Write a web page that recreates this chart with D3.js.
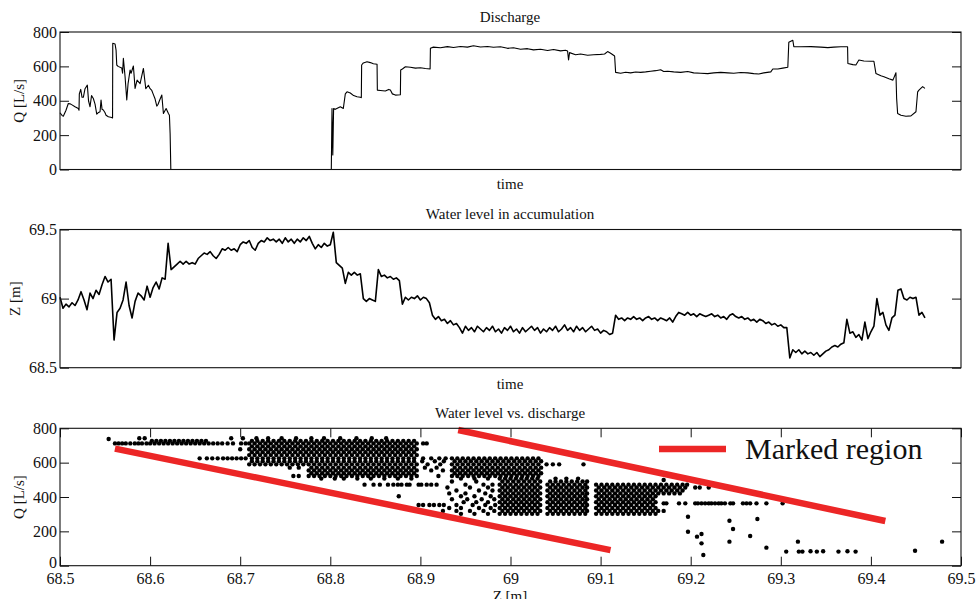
<!DOCTYPE html>
<html><head><meta charset="utf-8">
<script src="https://cdn.jsdelivr.net/npm/d3@7"></script>
<style>
body{margin:0;background:#fff}
svg{display:block}
svg text{font-family:"Liberation Serif","DejaVu Serif","Times New Roman",serif !important;}
</style>
</head><body>
<svg id="chart" width="978" height="599"></svg>
<script>
// ---------------- DATA ----------------
const qTicks = [0, 200, 400, 600, 800];
const zTicks = [68.5, 69, 69.5];
const zTickLabels = ["68.5", "69", "69.5"];
const sxTicks = [68.5, 68.6, 68.7, 68.8, 68.9, 69, 69.1, 69.2, 69.3, 69.4, 69.5];
const sxLabels = ["68.5","68.6","68.7","68.8","68.9","69","69.1","69.2","69.3","69.4","69.5"];
const timeMax = 900;

// Discharge Q [L/s] over time
const dischargeTime = [0,2,3.3,6,8.3,10,12,15,18.3,19,19.3,20.7,22,23.3,25,27.3,28.5,30,31.5,33.3,35,36.7,38,40,41,42,43.3,45,46,48.3,51.7,52.5,52.7,55,56,56.7,58,61.7,62.5,63.3,65,66.7,68,70,71,73.3,75,77,80,83.3,85.7,88.3,90,91.7,93,95,96.7,98,99.3,101.7,103.3,106,108.3,109.3,110,110.7,
 271,271.7,272.5,273.3,275,280,283,285,286.7,290,293.3,296.7,300,301,301.3,303,306.7,310,313,316.7,317,320,325,328.3,330,332,335,340,340.3,342,345,350,355,360,365,369.7,370,373,380,387,393,400,407,413,420,427,433,440,447,453,460,467,473,480,487,493,500,505,507,508,509,515,520,527,533,540,544,547,550,554,555,560,565,570,575,580,585,590,595,600,603,607,613,620,627,633,640,647,653,660,667,673,680,687,693,698,703,710,712,717,722,727,728,732,733,740,750,760,767,773,780,786.7,787,792,795,798,803,810,813,815,820,823,828,832,835,835.7,836.7,840,845,850,855,856.7,858,861.7,864];
const dischargeValue = [330,315,310,345,384,382,376,365,355,345,440,466,420,420,470,491,400,365,430,413,380,322,330,336,404,350,346,330,316,307,303,300,734,730,695,608,600,590,560,647,540,404,500,579,560,602,472,520,500,588,470,490,470,460,440,410,369,380,400,433,326,355,326,316,210,0,
 0,355,84,355,350,365,355,440,452,445,430,423,420,418,608,620,627,622,615,612,462,460,457,466,462,440,433,435,579,585,598,595,590,592,588,585,705,712,708,715,710,716,712,720,713,716,711,714,705,708,700,703,696,700,692,698,690,694,690,637,680,668,672,665,668,670,672,686,676,660,565,560,566,562,567,565,568,572,575,580,570,572,568,565,570,562,560,558,562,565,562,560,564,562,558,556,562,568,585,585,590,595,740,752,715,714,715,712,709,712,714,714,617,610,608,637,631,630,630,559,545,540,528,520,563,414,326,316,310,312,336,452,462,482,472];

// Water level Z [m], one reading every 3 time units from t = 0
const levelStep = 3;
const waterLevel = [69.01,68.93,68.96,68.94,68.97,68.95,68.99,69.05,68.99,68.92,69.04,69.00,69.06,69.03,69.10,69.16,69.12,69.14,68.70,68.90,
 68.93,68.99,69.12,68.95,68.86,68.98,69.04,69.02,68.99,69.09,69.01,69.08,69.12,69.07,69.15,69.14,69.40,69.21,69.23,69.25,
 69.27,69.25,69.27,69.25,69.26,69.25,69.29,69.31,69.33,69.32,69.34,69.31,69.29,69.32,69.36,69.35,69.37,69.35,69.36,69.34,
 69.39,69.41,69.40,69.42,69.37,69.35,69.40,69.42,69.41,69.44,69.42,69.43,69.41,69.43,69.40,69.44,69.41,69.43,69.40,69.43,
 69.41,69.44,69.42,69.45,69.40,69.36,69.39,69.37,69.40,69.38,69.39,69.48,69.26,69.24,69.22,69.11,69.19,69.17,69.19,69.17,
 69.18,69.00,68.98,69.00,68.99,68.98,69.21,69.16,69.17,69.15,69.16,69.14,69.15,69.13,68.96,69.01,68.99,69.01,69.00,69.02,
 68.99,69.01,69.00,68.97,68.88,68.85,68.87,68.84,68.85,68.82,68.84,68.81,68.82,68.79,68.75,68.80,68.77,68.79,68.76,68.80,
 68.78,68.76,68.79,68.77,68.80,68.76,68.78,68.75,68.79,68.77,68.80,68.76,68.78,68.75,68.79,68.76,68.78,68.80,68.77,68.79,
 68.75,68.78,68.76,68.79,68.77,68.80,68.76,68.78,68.81,68.77,68.79,68.76,68.80,68.77,68.79,68.76,68.78,68.80,68.77,68.78,
 68.75,68.77,68.76,68.74,68.75,68.88,68.85,68.86,68.84,68.86,68.85,68.87,68.85,68.86,68.84,68.86,68.87,68.85,68.86,68.84,
 68.86,68.85,68.84,68.86,68.83,68.87,68.90,68.89,68.88,68.90,68.88,68.89,68.87,68.89,68.88,68.87,68.88,68.89,68.87,68.88,
 68.86,68.87,68.85,68.88,68.89,68.87,68.86,68.87,68.85,68.86,68.84,68.85,68.83,68.85,68.84,68.82,68.83,68.81,68.82,68.80,
 68.81,68.79,68.79,68.57,68.63,68.61,68.63,68.60,68.62,68.60,68.61,68.59,68.61,68.58,68.60,68.62,68.63,68.65,68.66,68.65,
 68.67,68.68,68.85,68.75,68.76,68.72,68.74,68.70,68.83,68.71,68.76,68.80,69.00,68.88,68.90,68.81,68.77,68.86,68.88,69.06,
 69.07,69.00,68.99,69.01,69.00,69.01,68.88,68.90,68.86];

// Scatter: water level Z [m] readings grouped by discharge level Q [L/s]
const colsA1 = [68.710,68.716,68.722,68.728,68.734,68.740,68.746,68.752,68.758,68.764,68.770,68.776,68.782,68.788,68.794,68.800,68.806,68.812,68.818,68.824,68.830,68.836,68.842,68.848,68.854,68.860,68.866,68.872,68.878,68.884,68.890,68.896];
const colsA2 = [68.713,68.719,68.725,68.731,68.737,68.743,68.749,68.755,68.761,68.767,68.773,68.779,68.785,68.791,68.797,68.803,68.809,68.815,68.821,68.827,68.833,68.839,68.845,68.851,68.857,68.863,68.869,68.875,68.881,68.887,68.893];
const colsB1 = [68.776,68.782,68.788,68.794,68.800,68.806,68.812,68.818,68.824,68.830,68.836,68.842,68.848,68.854,68.860,68.866,68.872,68.878,68.884,68.890,68.896];
const colsB2 = [68.779,68.785,68.791,68.797,68.803,68.809,68.815,68.821,68.827,68.833,68.839,68.845,68.851,68.857,68.863,68.869,68.875,68.881,68.887,68.893];
const colsD1 = [68.935,68.941,68.947,68.953,68.959,68.965,68.971,68.977,68.983,68.989,68.995,69.001,69.007,69.013,69.019,69.025,69.031];
const colsD2 = [68.938,68.944,68.950,68.956,68.962,68.968,68.974,68.980,68.986,68.992,68.998,69.004,69.010,69.016,69.022,69.028,69.034];
const colsC1a = [68.988,68.994,69.000,69.006,69.012,69.018,69.024,69.030];
const colsC1b = [68.991,68.997,69.003,69.009,69.015,69.021,69.027,69.033];
const colsC2a = [69.041,69.047,69.053,69.059,69.065,69.071,69.077,69.083];
const colsC2b = [69.044,69.050,69.056,69.062,69.068,69.074,69.080,69.085];
const colsC3a = [69.095,69.101,69.107,69.113,69.119,69.125,69.131,69.137,69.143,69.149,69.155,69.161];
const colsC3b = [69.098,69.104,69.110,69.116,69.122,69.128,69.134,69.140,69.146,69.152,69.158];

const scatterRows = [
 [742,[68.588,68.594,68.69,68.703,68.718,68.731,68.746,68.762,68.779,68.793,68.811,68.829,68.846,68.862]],
 [738,[68.554]],
 [727,[68.602,68.607,68.612,68.617,68.622,68.627,68.632,68.637,68.642,68.647,68.652,68.657,68.662,...colsA2]],
 [712,[68.561,68.565,68.569,68.573,68.578,68.583,68.587,68.591,68.596,68.600,68.605,68.610,68.615,68.620,68.625,68.630,68.635,68.640,68.645,68.650,68.655,68.660,68.665,68.670,68.675,68.680,68.686,68.692,68.701,68.706,...colsA1,68.903,68.907]],
 [695,[...colsA2]],
 [678,[68.700,...colsA1]],
 [661,[...colsA2]],
 [644,[...colsA1]],
 [625,[68.655,68.663,68.669,68.675,68.681,68.686,68.691,68.696,68.701,68.706,...colsA2,68.903,68.912,68.921,68.928,...colsD1]],
 [608,[...colsA2,68.902,68.916,68.926,...colsD2]],
 [590,[...colsA1,68.908,68.922,...colsD1,69.040,69.047,69.054,69.081]],
 [571,[68.755,68.765,...colsB2,68.905,68.918,...colsD2]],
 [555,[...colsB1,68.912,68.925,...colsD1]],
 [538,[...colsB2,...colsD2]],
 [522,[68.759,68.765,...colsB1,68.92,...colsD1]],
 [507,[68.790,68.805,68.815,68.830,68.845,68.860,68.875,68.890,68.945,68.960,68.975,...colsC1a,69.050,69.062,69.075]],
 [499,[69.170]],
 [490,[68.935,68.962,...colsC1b,...colsC2b]],
 [472,[68.838,68.848,68.855,68.864,68.870,68.875,68.879,68.885,68.888,68.898,68.901,68.907,68.912,68.918,68.950,68.970,68.980,...colsC1a,...colsC2a,...colsC3a,69.167,69.173,69.179,69.185,69.191,69.196]],
 [455,[68.930,68.955,68.975,...colsC1b,...colsC2b,...colsC3b,69.164,69.170,69.176,69.182,69.188,69.194,69.205,69.210,69.220]],
 [438,[68.940,68.965,68.980,...colsC1a,...colsC2a,...colsC3a,69.167,69.173,69.179,69.185,69.191]],
 [421,[68.932,68.950,68.972,...colsC1b,...colsC2b,...colsC3b,69.164,69.170,69.176,69.182,69.188]],
 [404,[68.876,68.945,68.960,68.978,...colsC1a,...colsC2a,...colsC3a]],
 [387,[68.935,68.952,68.968,68.982,...colsC1b,...colsC2b,...colsC3b]],
 [370,[68.948,68.962,68.975,...colsC1a,...colsC2a,...colsC3a]],
 [363,[69.170,69.173,69.187,69.194,69.205,69.208,69.212,69.216,69.220,69.223,69.227,69.231,69.234,69.238,69.244,69.247,69.258,69.262,69.266,69.273,69.284,69.302]],
 [353,[68.898,68.903,68.910,68.915,68.921,68.926,68.940,68.958,68.972,68.983,...colsC1b,...colsC2b,...colsC3b]],
 [336,[68.932,68.945,68.965,68.978,...colsC1a,...colsC2a,...colsC3a]],
 [319,[68.925,68.940,68.955,68.970,68.982,...colsC1b,...colsC2b,...colsC3b,69.164,69.170]],
 [302,[68.945,68.960,68.975,...colsC1a,...colsC2a,...colsC3a]],
 [285,[69.197]], [272,[69.274]], [262,[69.243]], [214,[69.247]], [198,[69.197]],
 [185,[69.212]], [173,[69.266]], [169,[69.207]], [140,[69.243,69.319,69.479]],
 [130,[69.212]], [105,[69.284]], [87,[69.449]], [84,[69.333,69.347,69.374]],
 [82,[69.306,69.320,69.324,69.340,69.364,69.383]], [62,[69.214]]
];

// Marked region boundaries [Z, Q]
const markedLower = [[68.561, 682], [69.111, 91]];
const markedUpper = [[68.942, 790], [69.416, 260]];
const legendLabel = "Marked region";

// ---------------- DRAW ----------------
const svg = d3.select("#chart");
const FONT = "Liberation Serif";
const L = 60, R = 961;
const P1 = [32, 169.5], P2 = [229.5, 367.7], P3 = [428.3, 565.7];

const xT = d3.scaleLinear().domain([0, timeMax]).range([L, R]);
const yQ = d3.scaleLinear().domain([0, 800]).range([P1[1], P1[0]]);
const yZ = d3.scaleLinear().domain([68.5, 69.5]).range([P2[1], P2[0]]);
const xS = d3.scaleLinear().domain([68.5, 69.5]).range([L, R]);
const yS = d3.scaleLinear().domain([0, 800]).range([P3[1], P3[0]]);

function styleAxis(g) {
  g.select(".domain").remove();
  g.selectAll(".tick line").attr("stroke", "#111").attr("stroke-width", 1);
  g.attr("font-family", FONT).attr("font-size", 16);
  g.selectAll(".tick text").attr("fill", "#111");
}
function yAxes(scale, ticks, fmt, dyFirst) {
  const g = svg.append("g").attr("transform", `translate(${L},0)`)
    .call(d3.axisLeft(scale).tickValues(ticks).tickSizeInner(-9).tickSizeOuter(0).tickPadding(3).tickFormat(fmt))
    .call(styleAxis);
  svg.append("g").attr("transform", `translate(${R},0)`)
    .call(d3.axisRight(scale).tickValues(ticks).tickSizeInner(-9).tickSizeOuter(0).tickFormat(""))
    .call(styleAxis);
  return g;
}
function frame(p) {
  svg.append("rect").attr("x", L).attr("y", p[0]).attr("width", R - L).attr("height", p[1] - p[0])
    .attr("fill", "none").attr("stroke", "#111").attr("stroke-width", 1.1);
}
function label(txt, x, y, size, rot) {
  const t = svg.append("text").attr("font-family", FONT).attr("font-size", size).attr("fill", "#111")
    .attr("text-anchor", "middle").text(txt);
  if (rot) t.attr("transform", `translate(${x},${y}) rotate(-90)`);
  else t.attr("x", x).attr("y", y);
  return t;
}

// Panel 1: Discharge
const qData = dischargeTime.map((t, i) => ({t, v: dischargeValue[i]}));
svg.append("path").datum(qData)
  .attr("d", d3.line().x(d => xT(d.t)).y(d => yQ(d.v)))
  .attr("fill", "none").attr("stroke", "#000").attr("stroke-width", 1.1).attr("stroke-linejoin", "round");
yAxes(yQ, qTicks, d3.format("d"));
frame(P1);
label("Discharge", 510, 21.5, 15);
label("time", 510, 189, 15);
label("Q [L/s]", 24, (P1[0] + P1[1]) / 2, 15, true);

// Panel 2: Water level
const zData = waterLevel.map((v, i) => ({t: i * levelStep, v}));
svg.append("path").datum(zData)
  .attr("d", d3.line().x(d => xT(d.t)).y(d => yZ(d.v)))
  .attr("fill", "none").attr("stroke", "#000").attr("stroke-width", 1.6).attr("stroke-linejoin", "round");
yAxes(yZ, zTicks, (d, i) => zTickLabels[i]);
frame(P2);
label("Water level in accumulation", 510, 219, 15);
label("time", 510, 389, 15);
label("Z [m]", 20, (P2[0] + P2[1]) / 2, 15, true);

// Panel 3: scatter
const pts = scatterRows.flatMap(([q, zs]) => zs.map(z => ({z, q})));
svg.append("g").selectAll("circle").data(pts).join("circle")
  .attr("cx", d => xS(d.z)).attr("cy", d => yS(d.q)).attr("r", 2.2).attr("fill", "#000");

const redLine = d3.line().x(d => xS(d[0])).y(d => yS(d[1]));
[markedLower, markedUpper].forEach(seg => {
  svg.append("path").datum(seg).attr("d", redLine)
    .attr("stroke", "#ec2626").attr("stroke-width", 6.5).attr("fill", "none");
});

const gSL = yAxes(yS, qTicks, d3.format("d"));
// lift the "0" label slightly so it clears the x tick labels
gSL.selectAll(".tick text").filter(d => d === 0).attr("dy", "0.1em");
svg.append("g").attr("transform", `translate(0,${P3[0]})`)
  .call(d3.axisTop(xS).tickValues(sxTicks).tickSizeInner(-9).tickSizeOuter(0).tickFormat(""))
  .call(styleAxis);
svg.append("g").attr("transform", `translate(0,${P3[1]})`)
  .call(d3.axisBottom(xS).tickValues(sxTicks).tickSizeInner(-9).tickSizeOuter(0).tickPadding(7).tickFormat((d, i) => sxLabels[i]))
  .call(styleAxis);
frame(P3);
label("Water level vs. discharge", 510, 418, 15);
label("Z [m]", 510, 601, 15);
label("Q [L/s]", 24, (P3[0] + P3[1]) / 2, 15, true);

// Legend
svg.append("line").attr("x1", 659).attr("x2", 726).attr("y1", 449).attr("y2", 449)
  .attr("stroke", "#ec2626").attr("stroke-width", 6.5);
svg.append("text").attr("x", 745).attr("y", 459).attr("font-family", FONT).attr("font-size", 30)
  .attr("fill", "#111").text(legendLabel);
</script>
</body></html>
